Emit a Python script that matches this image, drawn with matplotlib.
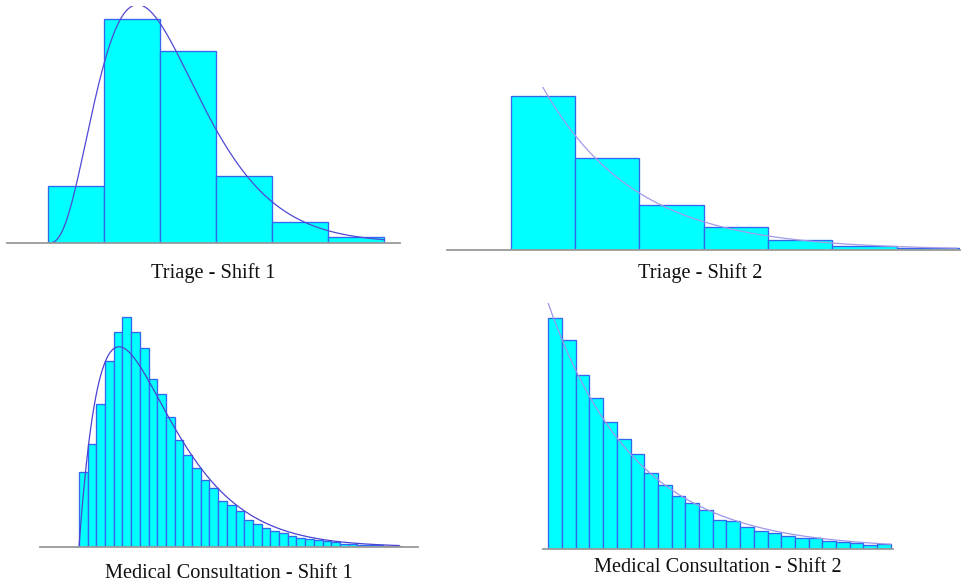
import math
import numpy as np
import matplotlib
matplotlib.use("Agg")
import matplotlib.pyplot as plt

# ── Data (bar heights, arbitrary frequency units) ────
triage_s1 = [57, 224, 192, 67, 21, 6]
triage_s2 = [154, 92, 45, 23, 10, 4, 2]
consult_s1 = [75, 103, 143, 186, 215, 230, 215, 199, 168, 153,
              130, 107, 92, 79, 67, 59, 46, 42, 36, 27,
              23, 19, 16, 14, 11, 9, 8, 7, 6, 5,
              3.3, 2.7, 2.3, 2, 1.7, 1.3, 1]
consult_s2 = [231, 209, 174, 151, 127, 110, 95, 76, 64, 53,
              46, 39, 29, 28, 22, 18, 16, 13, 11, 11,
              8, 7, 6, 4, 5]

titles = ["Triage - Shift 1", "Triage - Shift 2",
          "Medical Consultation - Shift 1", "Medical Consultation - Shift 2"]

# fitted distributions (per bin units): gamma(shape, scale) or exponential(rate)
fit_s1_triage = ("gamma", 4.0, 0.533)
fit_s2_triage = ("expon", 0.70)
fit_s1_consult = ("gamma", 2.0, 4.6)
fit_s2_consult = ("expon", 0.158)

# ── Style ─────────────────────────────────────────────────────────────────
CYAN = "#00FFFF"
EDGE = "#3566f2"
BASE = "#9a9a9a"
W, H = 968, 586
plt.rcParams["font.family"] = ["Liberation Serif", "DejaVu Serif"]


def pdf(fit, x):
    if fit[0] == "gamma":
        k, th = fit[1], fit[2]
        return x ** (k - 1) * np.exp(-x / th) / (math.gamma(k) * th ** k)
    lam = fit[1]
    return lam * np.exp(-lam * x)


def panel(fig, heights, fit, box, xlim, ytop, curve_end, curve_color, title, tpos):
    left, right, top, base = box
    ax = fig.add_axes([left / W, (H - base) / H, (right - left) / W, (base - top) / H])
    n = len(heights)
    ax.bar(np.arange(n), heights, width=1.0, align="edge", color=CYAN,
           edgecolor=EDGE, linewidth=0.95, zorder=2)
    xs = np.linspace(0.001, curve_end, 400)
    ax.plot(xs, sum(heights) * pdf(fit, xs), color=curve_color, lw=0.9, zorder=3)
    ax.axhline(0, color=BASE, lw=1.3, clip_on=False, zorder=4)
    ax.set_xlim(*xlim)
    ax.set_ylim(0, ytop)
    ax.axis("off")
    fig.text(tpos[0] / W, 1 - tpos[1] / H, title, ha="center", va="center",
             fontsize=14.7, color="#111111")
    return ax


fig = plt.figure(figsize=(W / 100, H / 100), dpi=100, facecolor="white")

# box = (left px, right px, top px, baseline px)
panel(fig, triage_s1, fit_s1_triage, (7, 400, 6, 243),
      ((7 - 48) / 56, (400 - 48) / 56), 237, 6.0, "#5048d6", titles[0], (213, 273))
panel(fig, triage_s2, fit_s2_triage, (447, 960, 87, 250),
      ((447 - 510.7) / 64.3, (960 - 510.7) / 64.3), 163, 6.94, "#a39ae8", titles[1], (700, 273))
panel(fig, consult_s1, fit_s1_consult, (40, 418, 300, 547),
      ((40 - 79) / 8.7, (418 - 79) / 8.7), 247, 36.8, "#4a43d0", titles[2], (229, 574))
panel(fig, consult_s2, fit_s2_consult, (543, 893, 300, 549),
      ((543 - 548.3) / 13.7, (893 - 548.3) / 13.7), 249, 25.0, "#9d95ea", titles[3], (718, 567))

plt.savefig("out.png", dpi=100, facecolor="white")
plt.close()
